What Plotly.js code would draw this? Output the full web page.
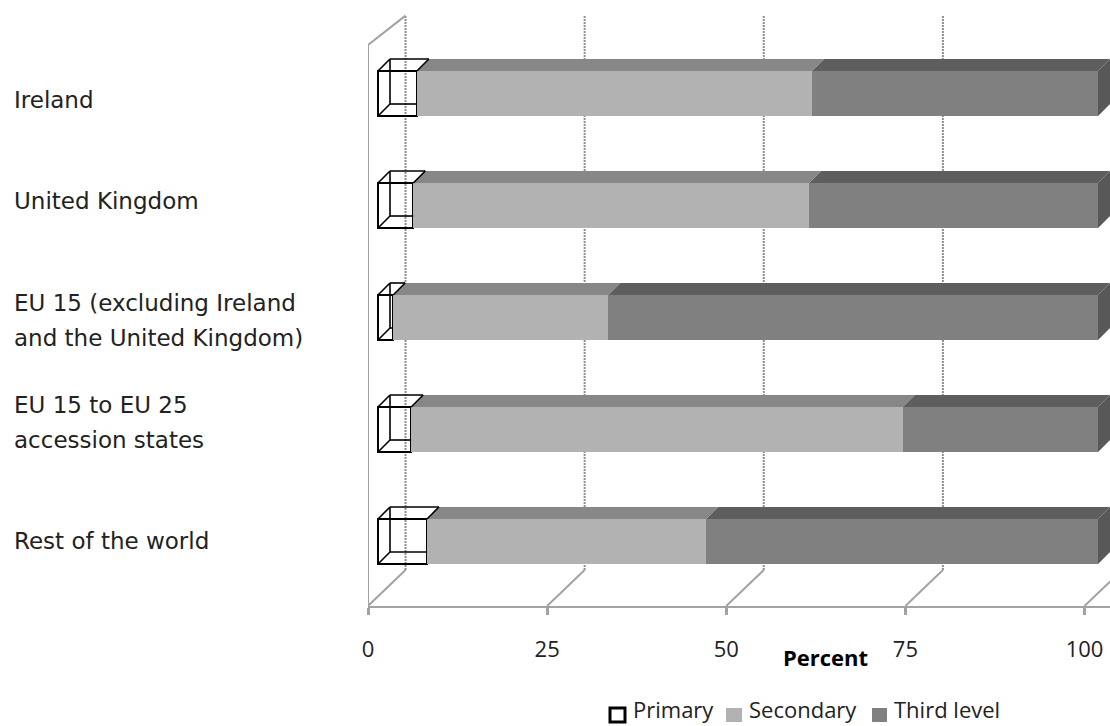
<!DOCTYPE html>
<html>
<head>
<meta charset="utf-8">
<script src="https://cdn.plot.ly/plotly-3.0.1.min.js"></script>
<style>html,body{margin:0;padding:0;background:#fff}</style>
</head>
<body>
<div id="chart" style="width:1110px;height:726px"></div>
<script>
// ---------- data ----------
const categories = ["Ireland", "United Kingdom", "EU 15 (excluding Ireland<br>and the United Kingdom)", "EU 15 to EU 25<br>accession states", "Rest of the world"];
const primary   = [5.4, 4.9, 2.1, 4.6, 6.8];
const secondary = [54.9, 55.0, 29.9, 68.3, 38.8];
const thirdLevel = [39.7, 40.1, 68.0, 27.1, 54.4];
const tickValues = [0, 25, 50, 75, 100];
const tickLabels = ["0", "25", "50", "75", "100"];
const seriesNames = ["Primary", "Secondary", "Third level"];

// ---------- layout helpers ----------
const W = 1110, H = 726;
const mL = 368, mR = 0, mT = 10, mB = 120;
const plotW = W - mL - mR, plotH = H - mT - mB;
const pxX = p => (p - mL) / plotW;
const pxY = p => (H - mB - p) / plotH;
const rowPx = 112, firstRowPx = 93.5;
const yTop = (mT - firstRowPx) / rowPx, yFloor = (H - mB - firstRowPx) / rowPx;
const yIdx = categories.map((_, i) => i);

const floorScale = 7.165, barScale = 7.2, barOriginPx = 378;
const barHalf = 0.201;
const barDx = 12 / barScale, barDy = 12 / rowPx;       // bar depth
const wallDx = 37.5 / floorScale, wallDy = 36 / rowPx; // wall depth
const wallLeftTopY = yTop + 35 / rowPx;

// ---------- wall ----------
function wallGridTrace() {
  const xs = [], ys = [];
  tickValues.forEach(t => {
    if (t + wallDx <= plotW / floorScale) {
      xs.push(t + wallDx, t + wallDx, null);
      ys.push(yFloor - wallDy, yTop + 0.05, null);
    }
  });
  return {type: 'scatter', mode: 'lines', x: xs, y: ys, xaxis: 'x', yaxis: 'y', showlegend: false, hoverinfo: 'skip',
          line: {color: '#8e8e8e', width: 2, dash: '2px,1px'}};
}
function wallFloorTrace() {
  const xs = [], ys = [];
  tickValues.forEach(t => {
    xs.push(t, t + wallDx, null);
    ys.push(yFloor, yFloor - wallDy, null);
  });
  xs.push(0, 0, wallDx, null);
  ys.push(yFloor, wallLeftTopY, yTop + 0.05, null);
  return {type: 'scatter', mode: 'lines', x: xs, y: ys, xaxis: 'x', yaxis: 'y', showlegend: false, hoverinfo: 'skip',
          line: {color: '#a2a2a2', width: 2}};
}

// ---------- bar faces ----------
function topFace(starts, lens, color) {
  const xs = [], ys = [];
  yIdx.forEach(i => {
    const a = starts[i], b = a + lens[i], yf = i - barHalf, yb = yf - barDy;
    xs.push(a, b, b + barDx, a + barDx, a, null);
    ys.push(yf, yf, yb, yb, yf, null);
  });
  return {type: 'scatter', mode: 'lines', x: xs, y: ys, xaxis: 'x2', yaxis: 'y', fill: 'toself', fillcolor: color,
          line: {width: 0, color: color}, showlegend: false, hoverinfo: 'skip'};
}
function sideFace(ends, color) {
  const xs = [], ys = [];
  yIdx.forEach(i => {
    const e = ends[i];
    xs.push(e, e + barDx, e + barDx, e, e, null);
    ys.push(i - barHalf, i - barHalf - barDy, i + barHalf - barDy, i + barHalf, i - barHalf, null);
  });
  return {type: 'scatter', mode: 'lines', x: xs, y: ys, xaxis: 'x2', yaxis: 'y', fill: 'toself', fillcolor: color,
          line: {width: 0, color: color}, showlegend: false, hoverinfo: 'skip'};
}
function primaryWire() {
  const xs = [], ys = [];
  yIdx.forEach(i => {
    const b = primary[i], t = i - barHalf, u = i + barHalf, bt = t - barDy, bu = u - barDy;
    // back edges: left and top in full, bottom and right stop at the front face of the next segment
    xs.push(Math.min(barDx, b), Math.min(barDx, b), null, barDx, b + barDx, null, barDx, b, null);
    ys.push(bt, bu, null, bt, bt, null, bu, bu, null);
    // depth edges
    xs.push(0, barDx, null, b, b + barDx, null, 0, barDx, null);
    ys.push(t, bt, null, t, bt, null, u, bu, null);
  });
  return {type: 'scatter', mode: 'lines', x: xs, y: ys, xaxis: 'x2', yaxis: 'y', showlegend: false, hoverinfo: 'skip',
          line: {color: '#000', width: 1.6}};
}

const cum1 = primary.slice();
const cum2 = primary.map((v, i) => v + secondary[i]);
const cum3 = cum2.map((v, i) => v + thirdLevel[i]);

function barTrace(name, vals, fill, line) {
  return {type: 'bar', orientation: 'h', name: name, x: vals, y: yIdx, width: 2 * barHalf, xaxis: 'x2', yaxis: 'y',
          marker: {color: fill, line: line}, hoverinfo: 'x+name', showlegend: false};
}

const data = [
  wallGridTrace(),
  wallFloorTrace(),
  barTrace(seriesNames[0], primary, 'rgba(255,255,255,0)', {color: '#000', width: 2}),
  barTrace(seriesNames[1], secondary, '#b2b2b2', {width: 0}),
  barTrace(seriesNames[2], thirdLevel, '#808080', {width: 0}),
  topFace(cum1, secondary, '#878787'),
  topFace(cum2, thirdLevel, '#5e5e5e'),
  sideFace(cum3, '#585858'),
  primaryWire()
];

// ---------- text ----------
const labelCentres = [100, 201, 320.5, 422.5, 541];
const lineGap = 35;
const annotations = [];
categories.forEach((c, i) => {
  const lines = c.split('<br>');
  lines.forEach((ln, k) => {
    annotations.push({
      text: ln, xref: 'paper', yref: 'paper', x: pxX(12), y: pxY(labelCentres[i] + (k - (lines.length - 1) / 2) * lineGap),
      xanchor: 'left', yanchor: 'middle', showarrow: false, align: 'left',
      font: {family: '"DejaVu Sans", sans-serif', size: 23, color: '#222'}
    });
  });
});
annotations.push({text: '<b>Percent</b>', xref: 'paper', yref: 'paper', x: pxX(825), y: pxY(657), xanchor: 'center', yanchor: 'middle',
  showarrow: false, font: {family: '"Open Sans", sans-serif', size: 22, color: '#000'}});

// ---------- legend (key boxes and labels) ----------
const keyLeft = [610, 726, 872], keyRight = [625, 742, 887], keyTextLeft = [631, 747, 892];
const keyFill = ['rgba(255,255,255,0)', '#b2b2b2', '#808080'];
const keyLine = [{color: '#000', width: 3}, {width: 0}, {width: 0}];
const shapes = seriesNames.map((n, i) => ({
  type: 'rect', xref: 'paper', yref: 'paper', x0: pxX(keyLeft[i]), x1: pxX(keyRight[i]), y0: pxY(708), y1: pxY(722),
  fillcolor: keyFill[i], line: keyLine[i]
}));
seriesNames.forEach((n, i) => annotations.push({
  text: n, xref: 'paper', yref: 'paper', x: pxX(keyTextLeft[i]), y: pxY(709), xanchor: 'left', yanchor: 'middle',
  showarrow: false, font: {family: '"Open Sans", sans-serif', size: 22, color: '#222'}
}));

const layout = {
  width: W, height: H, paper_bgcolor: '#fff', plot_bgcolor: '#fff',
  margin: {l: mL, r: mR, t: mT, b: mB, pad: 0},
  barmode: 'stack', showlegend: false,
  font: {family: '"Open Sans", sans-serif', color: '#222'},
  xaxis: {
    range: [0, plotW / floorScale], tickmode: 'array', tickvals: tickValues, ticktext: tickLabels,
    showgrid: false, zeroline: false, showline: true, linecolor: '#a2a2a2', linewidth: 2,
    ticks: 'outside', ticklen: 7, tickwidth: 3, tickcolor: '#a2a2a2',
    tickfont: {family: '"Open Sans", sans-serif', size: 22, color: '#222'}, ticklabelstandoff: 16
  },
  xaxis2: {
    overlaying: 'x', anchor: 'y', visible: false,
    range: [(mL - barOriginPx) / barScale, (W - barOriginPx) / barScale]
  },
  yaxis: {range: [yFloor, yTop], showgrid: false, zeroline: false, showline: false, showticklabels: false, ticks: ''},
  annotations: annotations,
  shapes: shapes
};

Plotly.newPlot('chart', data, layout, {displayModeBar: false, responsive: false});
</script>
</body>
</html>
